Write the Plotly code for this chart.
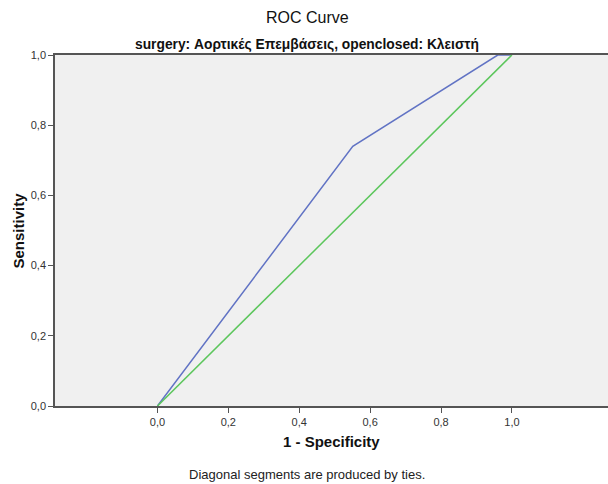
import plotly.graph_objects as go

# ROC data
roc_fpr = [0.0, 0.551, 0.96, 1.0]
roc_tpr = [0.0, 0.74, 1.0, 1.0]
ref_fpr = [0.0, 1.0]
ref_tpr = [0.0, 1.0]
tick_vals = [0.0, 0.2, 0.4, 0.6, 0.8, 1.0]

title = "ROC Curve"
subtitle = "surgery: Αορτικές Επεμβάσεις, openclosed: Κλειστή"
x_title = "1 - Specificity"
y_title = "Sensitivity"
footnote = "Diagonal segments are produced by ties."

fig = go.Figure()
fig.add_trace(go.Scatter(x=roc_fpr, y=roc_tpr, mode="lines",
                         line=dict(color="#6173c4", width=1.5), showlegend=False))
fig.add_trace(go.Scatter(x=ref_fpr, y=ref_tpr, mode="lines",
                         line=dict(color="#5cc65c", width=1.5), showlegend=False))

font = "Liberation Sans, Arial, sans-serif"
fig.update_layout(
    width=608, height=484,
    margin=dict(l=55, r=0, t=55, b=78),
    paper_bgcolor="white", plot_bgcolor="#f0f0f0",
    separators=",.",
    font=dict(family=font, size=11, color="#222"),
    xaxis=dict(range=[-0.289, 1.271], tickvals=tick_vals, tickformat=".1f",
               showgrid=False, zeroline=False, showline=True, linecolor="#555",
               linewidth=1.5, mirror=True, ticks="outside", ticklen=5, tickcolor="#555",
               tickfont=dict(size=11, color="#333")),
    yaxis=dict(range=[0, 1], tickvals=tick_vals, tickformat=".1f",
               showgrid=False, zeroline=False, showline=True, linecolor="#555",
               linewidth=1.5, ticks="outside", ticklen=5, tickcolor="#555",
               tickfont=dict(size=11, color="#333")),
    annotations=[
        dict(text=title, xref="paper", yref="paper", x=0.456, y=1, yshift=38,
             showarrow=False, xanchor="center", yanchor="middle",
             font=dict(size=16, color="#111")),
        dict(text="<b>" + subtitle + "</b>", xref="paper", yref="paper", x=0.456, y=1,
             yshift=11, showarrow=False, xanchor="center", yanchor="middle",
             font=dict(size=13.8, color="#111")),
        dict(text="<b>" + x_title + "</b>", xref="paper", yref="paper", x=0.5, y=0,
             yshift=-35, showarrow=False, xanchor="center", yanchor="middle",
             font=dict(size=15, color="#111")),
        dict(text="<b>" + y_title + "</b>", xref="paper", yref="paper", x=0, y=0.5,
             xshift=-37, textangle=-90, showarrow=False, xanchor="center", yanchor="middle",
             font=dict(size=15, color="#111")),
        dict(text=footnote, xref="paper", yref="paper", x=0.456, y=0,
             yshift=-68, showarrow=False, xanchor="center", yanchor="middle",
             font=dict(size=13, color="#222")),
    ],
)

fig.write_html("out.html")
